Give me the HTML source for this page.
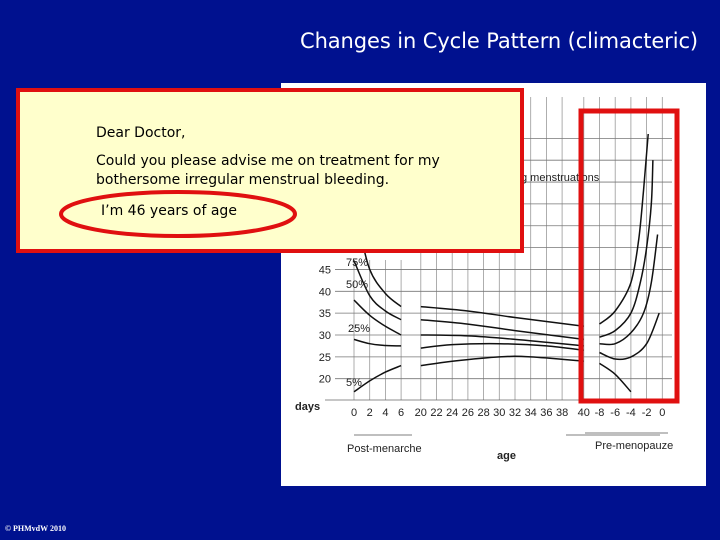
<!DOCTYPE html>
<html><head><meta charset="utf-8"><style>
html,body{margin:0;padding:0}
body{width:720px;height:540px;background:#00118f;position:relative;overflow:hidden;font-family:"Comic Sans MS","DejaVu Sans",sans-serif}
.title{position:absolute;left:260px;top:29px;width:438px;text-align:right;color:#fff;font-size:21px;letter-spacing:-0.1px}
.foot{position:absolute;left:5px;top:524px;color:#fff;font-size:8px;font-family:"Liberation Serif",serif;font-weight:bold}
.box{position:absolute;left:16px;top:88px;width:500px;height:157px;background:#ffffcc;border:4px solid #e01010}
.box p{position:absolute;margin:0;font-size:14px;color:#000;line-height:19px}
</style></head><body>
<div class="title">Changes in Cycle Pattern (climacteric)</div>
<svg id="chart" width="720" height="540" style="position:absolute;left:0;top:0" xmlns="http://www.w3.org/2000/svg">
<rect x="281" y="83" width="425" height="403" fill="#fff"/>
<g id="grid"></g><g id="lines"></g><g id="labels" font-family="Liberation Sans, sans-serif" font-size="11" fill="#222"></g>
</svg>
<div class="box">
<p style="left:76px;top:32px">Dear Doctor,</p>
<p style="left:76px;top:60px">Could you please advise me on treatment for my<br>bothersome irregular menstrual bleeding.</p>
<p style="left:81px;top:110px">I’m 46 years of age</p>
</div>
<svg width="720" height="540" style="position:absolute;left:0;top:0" xmlns="http://www.w3.org/2000/svg">
<ellipse cx="178" cy="214" rx="117" ry="22" fill="none" stroke="#e01010" stroke-width="4"/>
<rect x="581" y="111" width="96" height="290" fill="none" stroke="#e01010" stroke-width="5"/>
</svg>
<div class="foot">© PHMvdW 2010</div>
<script>
const tickLabels=["0","2","4","6","20","22","24","26","28","30","32","34","36","38","40","-8","-6","-4","-2","0"];
const yTicks=[45,40,35,30,25,20];
// series: [tickIndex, days]
const p5a=[[0,17],[1,19.5],[2,21.5],[3,23]];
const p25a=[[0,29],[1,28],[2,27.6],[3,27.5]];
const p50a=[[0,38],[1,34.5],[2,32],[3,30]];
const p75a=[[0,47],[1,39],[2,35.5],[3,33.5]];
const p90a=[[0.3,55],[1,45],[2,39.5],[3,36.5]];
const p5b=[[4,23],[6,24],[9,25],[11,25],[14,24]];
const p25b=[[4,27],[6,27.8],[9,28],[12,27.5],[14,26.5]];
const p50b=[[4,30],[7,29.8],[10,29],[14,27.5]];
const p75b=[[4,33.5],[7,32.5],[10,31],[14,29]];
const p90b=[[4,36.5],[7,35.5],[10,34],[14,32]];
const p5c=[[15,23.5],[16,21],[17,17]];
const p25c=[[15,26],[16,24.5],[17,25],[18,28],[18.8,35]];
const p50c=[[15,28],[16,28],[17,30.5],[17.8,35],[18.3,42],[18.7,53]];
const p75c=[[15,29.5],[16,31],[17,35],[17.6,42],[18,50],[18.3,60],[18.4,70]];
const p90c=[[15,32.5],[16,35.5],[17,42],[17.5,52],[17.8,63],[18.1,76]];
const NS="http://www.w3.org/2000/svg";
function xs(i){return 354+i*15.7+(i>=4?4:0)+(i>=14?6:0);}
function ys(v){return 335-(v-30)*4.37;}
const grid=document.getElementById('grid'),lines=document.getElementById('lines'),labels=document.getElementById('labels');
function mk(tag,attrs,parent){const e=document.createElementNS(NS,tag);for(const k in attrs)e.setAttribute(k,attrs[k]);parent.appendChild(e);return e;}
for(let i=0;i<tickLabels.length;i++){
 const l=mk('line',{x1:xs(i),x2:xs(i),y1:i>=4?97:260,y2:400,stroke:'#999','stroke-width':0.8},grid);
 
 
 const t=mk('text',{x:xs(i),y:416,'text-anchor':'middle'},labels);
 t.textContent=tickLabels[i];
 
 
}
for(let v=20;v<=75;v+=5){
 const l=mk('line',{x1:v>45?520:335,x2:672,y1:ys(v),y2:ys(v),stroke:'#777','stroke-width':0.8},grid);
 
 
}
mk('line',{x1:325,x2:672,y1:400,y2:400,stroke:'#666','stroke-width':0.8},grid);
yTicks.forEach(v=>{const t=mk('text',{x:331,y:ys(v)+4,'text-anchor':'end'},labels);t.textContent=v;
 
 });
function path(s){
 const p=s.map(q=>[xs(q[0]),ys(q[1])]);
 let d='M'+p[0][0].toFixed(1)+','+p[0][1].toFixed(1);
 for(let k=0;k<p.length-1;k++){
  const p0=p[k-1]||p[k],p1=p[k],p2=p[k+1],p3=p[k+2]||p2;
  const c1=[p1[0]+(p2[0]-p0[0])/6,p1[1]+(p2[1]-p0[1])/6];
  const c2=[p2[0]-(p3[0]-p1[0])/6,p2[1]-(p3[1]-p1[1])/6];
  d+='C'+c1.map(v=>v.toFixed(1)).join(',')+' '+c2.map(v=>v.toFixed(1)).join(',')+' '+p2[0].toFixed(1)+','+p2[1].toFixed(1);
 }
 return d;
}
[p5a,p25a,p50a,p75a,p90a,p5b,p25b,p50b,p75b,p90b,p5c,p25c,p50c,p75c,p90c].forEach(s=>{
 const e=mk('path',{d:path(s),fill:'none',stroke:'#111','stroke-width':1.5,'stroke-linejoin':'round'},lines);
 
 
});
const extra=[["75%",346,266],["50%",346,288],["25%",348,332],["5%",346,386],["days",295,410],["age",497,459],["Post-menarche",347,452],["Pre-menopauze",595,449],["g menstruations",521,181]];
extra.forEach(a=>{const t=mk('text',{x:a[1],y:a[2]},labels);t.textContent=a[0];
 if(a[0]=='days'||a[0]=='age'){t.setAttribute('font-weight','bold');}
 
 });
[[354,435,412,435],[566,435,660,435],[585,433,668,433]].forEach(b=>{const l=mk('line',{x1:b[0],y1:b[1],x2:b[2],y2:b[3],stroke:'#555','stroke-width':0.8},grid);
 
 });
</script>
</body></html>
